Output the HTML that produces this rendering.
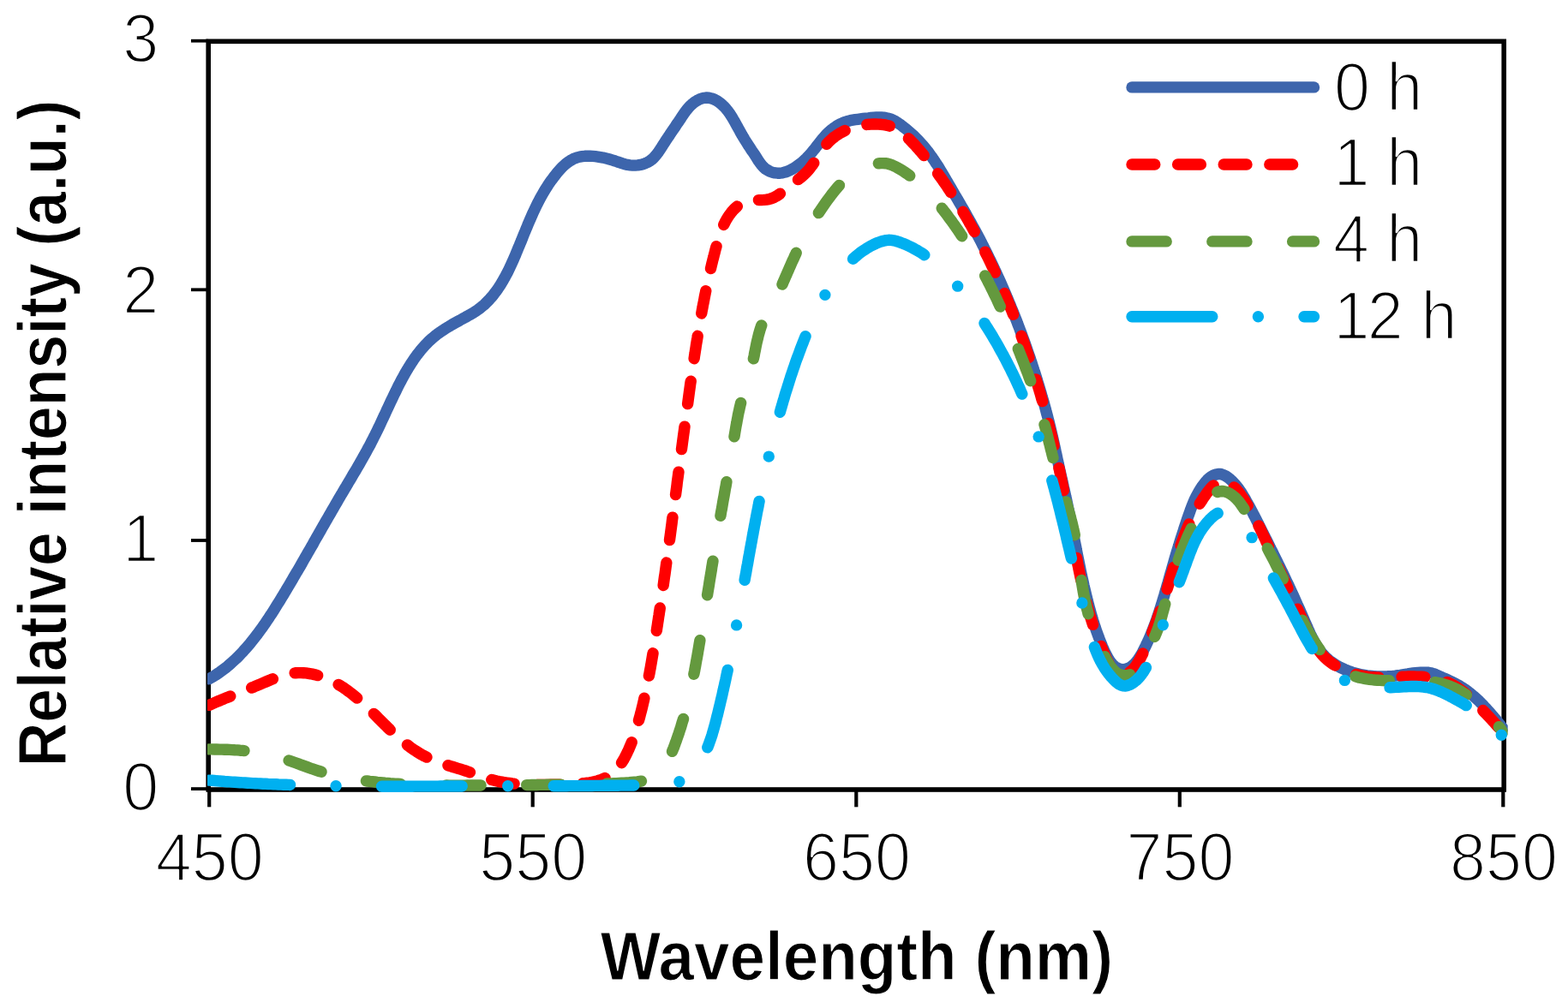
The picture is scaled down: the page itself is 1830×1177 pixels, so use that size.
<!DOCTYPE html>
<html lang="en">
<head>
<meta charset="utf-8">
<title>Relative intensity vs wavelength</title>
<style>
html,body{margin:0;padding:0;background:#fff;}
body{width:1830px;height:1177px;overflow:hidden;}
svg{display:block;}
text{font-family:"Liberation Sans",sans-serif;fill:#000;}
.tick{font-size:79.5px;stroke:#fff;stroke-width:2.4px;stroke-linejoin:round;}
.title{font-size:80.3px;font-weight:bold;stroke:#fff;stroke-width:1.2px;stroke-linejoin:round;}
.series{fill:none;stroke-width:13.4;stroke-linecap:round;stroke-linejoin:round;}
.ax{stroke:#000;fill:none;}
</style>
</head>
<body>
<svg width="1830" height="1177" viewBox="0 0 1830 1177">
<rect width="1830" height="1177" fill="#fff"/>
<defs><clipPath id="plot"><rect x="242" y="0" width="1517.7" height="925"/></clipPath></defs>
<rect class="ax" x="243.2" y="48.3" width="1512" height="873.7" stroke-width="5.6"/>
<g class="ax" stroke-width="3.8">
<line x1="223" y1="921.1" x2="243" y2="921.1"/>
<line x1="223" y1="631" x2="243" y2="631"/>
<line x1="223" y1="338.3" x2="243" y2="338.3"/>
<line x1="223" y1="47.7" x2="243" y2="47.7"/>
</g>
<g class="ax" stroke-width="4.2">
<line x1="244.2" y1="922" x2="244.2" y2="942.3"/>
<line x1="621.7" y1="922" x2="621.7" y2="942.3"/>
<line x1="999.3" y1="922" x2="999.3" y2="942.3"/>
<line x1="1376.8" y1="922" x2="1376.8" y2="942.3"/>
<line x1="1754.3" y1="922" x2="1754.3" y2="942.3"/>
</g>
<g class="series" clip-path="url(#plot)">
<path stroke="#3D65AC" d="M244 792.7L246.7 791.2L249.3 789.7L251.8 788.1L254.3 786.4L256.8 784.7L259.2 782.9L261.6 781.1L264 779.3L266.3 777.4L268.6 775.4L270.8 773.4L273 771.4L275.2 769.4L277.4 767.3L279.5 765.1L281.5 763L283.6 760.8L285.6 758.6L287.6 756.3L289.5 754.1L291.5 751.8L293.4 749.4L295.3 747.1L297.1 744.7L298.9 742.4L300.8 740L302.5 737.6L304.3 735.1L306.1 732.7L307.8 730.2L309.5 727.8L311.2 725.3L312.9 722.8L314.5 720.3L316.2 717.8L317.8 715.3L319.4 712.8L321 710.2L322.6 707.7L324.2 705.1L325.8 702.6L327.4 700L328.9 697.4L330.5 694.9L332 692.3L333.6 689.7L335.1 687.1L336.6 684.6L338.2 682L339.7 679.4L341.2 676.8L342.7 674.2L344.2 671.6L345.7 669L347.3 666.4L348.8 663.9L350.3 661.3L351.8 658.7L353.2 656.1L354.7 653.5L356.2 650.9L357.7 648.3L359.2 645.7L360.7 643.1L362.2 640.5L363.7 637.9L365.2 635.3L366.6 632.6L368.1 630L369.6 627.4L371.1 624.8L372.6 622.2L374.1 619.6L375.5 617L377 614.4L378.5 611.8L380 609.2L381.5 606.6L383 604L384.5 601.4L386 598.8L387.5 596.2L389 593.6L390.5 591L392 588.4L393.5 585.8L395 583.2L396.5 580.6L398 578L399.6 575.4L401.1 572.8L402.6 570.3L404.2 567.7L405.7 565.1L407.2 562.5L408.8 559.9L410.3 557.3L411.8 554.7L413.3 552.1L414.9 549.6L416.4 547L417.9 544.4L419.4 541.8L420.9 539.2L422.4 536.5L423.9 533.9L425.3 531.3L426.8 528.7L428.2 526.1L429.6 523.4L431.1 520.8L432.5 518.2L433.8 515.5L435.2 512.9L436.5 510.2L437.9 507.5L439.2 504.8L440.5 502.2L441.8 499.5L443.1 496.8L444.4 494.1L445.6 491.4L446.9 488.7L448.1 486L449.4 483.3L450.7 480.5L451.9 477.8L453.2 475.1L454.5 472.4L455.7 469.7L457 467L458.3 464.3L459.6 461.5L460.9 458.8L462.3 456.1L463.6 453.4L464.9 450.7L466.3 448L467.7 445.3L469.1 442.6L470.6 440L472 437.3L473.5 434.7L475.1 432.1L476.6 429.5L478.2 426.9L479.8 424.4L481.5 421.8L483.1 419.4L484.9 416.9L486.6 414.5L488.5 412.1L490.3 409.8L492.2 407.5L494.2 405.3L496.2 403.1L498.2 400.9L500.3 398.8L502.5 396.8L504.7 394.8L507 392.9L509.3 391L511.7 389.2L514.2 387.5L516.7 385.8L519.2 384.2L521.8 382.5L524.4 381L527 379.4L529.6 377.9L532.3 376.4L534.9 375L537.6 373.5L540.2 372L542.9 370.6L545.5 369.1L548.1 367.7L550.6 366.2L553.2 364.7L555.7 363.1L558.1 361.4L560.5 359.6L562.8 357.7L565.1 355.8L567.3 353.7L569.4 351.5L571.5 349.3L573.5 347.1L575.5 344.7L577.3 342.3L579.1 339.9L580.9 337.5L582.5 335L584.2 332.5L585.7 329.9L587.2 327.3L588.7 324.7L590.1 322.1L591.5 319.5L592.9 316.8L594.2 314.1L595.5 311.4L596.7 308.7L598 305.9L599.2 303.2L600.4 300.4L601.6 297.7L602.7 294.9L603.9 292.1L605 289.3L606.2 286.6L607.3 283.8L608.5 281L609.6 278.2L610.7 275.4L611.8 272.6L613 269.9L614.1 267.1L615.3 264.3L616.4 261.5L617.6 258.8L618.8 256L620 253.3L621.2 250.5L622.4 247.8L623.7 245.1L625 242.4L626.3 239.7L627.6 237L629 234.4L630.4 231.7L631.8 229.1L633.3 226.5L634.8 223.9L636.3 221.3L637.9 218.8L639.5 216.3L641.2 213.8L642.9 211.3L644.7 208.9L646.5 206.5L648.4 204.1L650.3 201.7L652.3 199.4L654.3 197.1L656.4 194.9L658.6 192.9L660.9 190.9L663.3 189.1L665.7 187.5L668.3 186.1L670.9 184.8L673.7 183.9L676.6 183.1L679.5 182.6L682.5 182.3L685.6 182.2L688.6 182.2L691.7 182.4L694.8 182.7L697.8 183.1L700.8 183.6L703.8 184.1L706.7 184.8L709.6 185.5L712.4 186.3L715.2 187.1L718 188L720.8 189L723.6 189.9L726.5 190.9L729.4 191.7L732.3 192.4L735.4 192.8L738.4 193.1L741.4 193.1L744.5 192.9L747.4 192.4L750.3 191.7L753.1 190.7L755.8 189.5L758.3 188L760.7 186.3L762.8 184.3L764.8 182.2L766.7 179.8L768.5 177.4L770.2 174.8L771.9 172.3L773.5 169.7L775.2 167.1L776.8 164.6L778.5 162.1L780.2 159.6L781.8 157.1L783.5 154.6L785.2 152.1L786.8 149.7L788.5 147.2L790.1 144.7L791.8 142.3L793.5 139.8L795.1 137.3L796.8 134.8L798.5 132.3L800.2 129.9L802.1 127.5L804 125.2L806.1 123.1L808.4 121L810.8 119.2L813.4 117.5L816.1 116.1L819 115L821.8 114.3L824.7 114L827.6 114.2L830.4 114.9L833.2 115.9L835.9 117.2L838.5 118.9L841 120.7L843.3 122.8L845.5 124.9L847.5 127.2L849.4 129.5L851.2 131.9L852.8 134.4L854.4 136.9L855.9 139.5L857.4 142L858.8 144.7L860.3 147.3L861.7 149.9L863.2 152.6L864.6 155.2L866.1 157.8L867.7 160.4L869.2 163L870.8 165.5L872.4 168.1L874 170.6L875.7 173.1L877.3 175.6L879 178L880.7 180.5L882.3 183.1L883.9 185.6L885.5 188.2L887.3 190.7L889.1 193.1L891.2 195.2L893.4 197.2L896 198.8L898.7 200.2L901.5 201.2L904.5 201.9L907.4 202.2L910.4 202.2L913.3 201.8L916.2 201.1L919 200.1L921.8 198.9L924.5 197.5L927.2 195.9L929.7 194.3L932.2 192.5L934.6 190.7L936.9 188.7L939.1 186.7L941.3 184.7L943.4 182.5L945.4 180.3L947.3 178.1L949.2 175.7L951.1 173.4L952.9 171L954.8 168.6L956.6 166.3L958.5 163.9L960.4 161.6L962.4 159.3L964.4 157.1L966.5 155L968.8 152.9L971.1 151L973.5 149.2L976 147.5L978.5 145.9L981.2 144.5L983.9 143.3L986.6 142.3L989.5 141.4L992.3 140.7L995.3 140.2L998.2 139.7L1001.2 139.3L1004.2 138.9L1007.3 138.5L1010.3 138.1L1013.4 137.8L1016.4 137.4L1019.5 137.1L1022.5 137L1025.5 136.9L1028.5 137L1031.4 137.2L1034.3 137.7L1037.2 138.3L1039.9 139.2L1042.6 140.4L1045.3 141.8L1047.8 143.4L1050.4 145.2L1052.8 147L1055.2 148.9L1057.6 150.8L1059.9 152.8L1062.2 154.8L1064.5 156.8L1066.7 158.8L1068.8 160.9L1070.9 163.1L1073 165.2L1075 167.4L1077 169.7L1078.9 171.9L1080.8 174.2L1082.7 176.6L1084.5 179L1086.2 181.4L1088 183.8L1089.6 186.3L1091.3 188.8L1092.9 191.3L1094.6 193.8L1096.1 196.3L1097.7 198.9L1099.3 201.5L1100.8 204.1L1102.3 206.7L1103.8 209.3L1105.4 211.9L1106.9 214.5L1108.4 217.1L1109.9 219.7L1111.4 222.3L1112.9 224.9L1114.4 227.5L1115.9 230.1L1117.5 232.7L1119 235.3L1120.5 237.9L1122 240.5L1123.5 243.1L1125 245.7L1126.5 248.3L1127.9 250.9L1129.4 253.5L1130.9 256.1L1132.3 258.7L1133.8 261.3L1135.2 264L1136.7 266.6L1138.1 269.2L1139.5 271.9L1140.9 274.5L1142.3 277.2L1143.7 279.8L1145.1 282.5L1146.4 285.2L1147.8 287.8L1149.1 290.5L1150.5 293.2L1151.8 295.9L1153.2 298.6L1154.5 301.3L1155.8 304L1157.1 306.7L1158.4 309.4L1159.7 312.1L1160.9 314.8L1162.2 317.5L1163.4 320.2L1164.7 323L1165.9 325.7L1167.2 328.4L1168.4 331.2L1169.6 333.9L1170.8 336.7L1172 339.4L1173.2 342.2L1174.4 344.9L1175.5 347.7L1176.7 350.5L1177.8 353.2L1179 356L1180.1 358.8L1181.3 361.6L1182.4 364.3L1183.5 367.1L1184.6 369.9L1185.7 372.7L1186.8 375.5L1187.8 378.3L1188.9 381.1L1190 383.9L1191 386.7L1192.1 389.5L1193.1 392.4L1194.1 395.2L1195.2 398L1196.2 400.8L1197.2 403.7L1198.2 406.5L1199.1 409.3L1200.1 412.2L1201.1 415L1202.1 417.8L1203 420.7L1204 423.5L1204.9 426.4L1205.8 429.2L1206.7 432.1L1207.7 435L1208.6 437.8L1209.5 440.7L1210.3 443.5L1211.2 446.4L1212.1 449.3L1213 452.2L1213.8 455L1214.7 457.9L1215.5 460.8L1216.3 463.7L1217.2 466.6L1218 469.4L1218.8 472.3L1219.6 475.2L1220.4 478.1L1221.1 481L1221.9 483.9L1222.7 486.8L1223.4 489.7L1224.2 492.6L1224.9 495.5L1225.6 498.4L1226.3 501.3L1227 504.3L1227.7 507.2L1228.4 510.1L1229 513L1229.7 515.9L1230.3 518.9L1231 521.8L1231.6 524.7L1232.2 527.7L1232.9 530.6L1233.5 533.5L1234.1 536.5L1234.8 539.4L1235.4 542.3L1236.1 545.3L1236.7 548.2L1237.4 551.1L1238 554.1L1238.7 557L1239.4 559.9L1240 562.8L1240.7 565.8L1241.3 568.7L1242 571.6L1242.6 574.5L1243.3 577.5L1243.9 580.4L1244.6 583.3L1245.2 586.3L1245.8 589.2L1246.4 592.1L1247 595.1L1247.7 598L1248.3 601L1248.8 603.9L1249.4 606.8L1250 609.8L1250.6 612.7L1251.2 615.7L1251.8 618.6L1252.3 621.5L1252.9 624.5L1253.5 627.4L1254 630.4L1254.6 633.3L1255.2 636.3L1255.8 639.2L1256.3 642.1L1256.9 645.1L1257.5 648L1258.1 651L1258.7 653.9L1259.3 656.8L1259.9 659.8L1260.5 662.7L1261.1 665.7L1261.7 668.6L1262.3 671.5L1263 674.5L1263.6 677.4L1264.3 680.3L1264.9 683.3L1265.6 686.2L1266.3 689.1L1267 692L1267.7 695L1268.4 697.9L1269.1 700.8L1269.9 703.7L1270.6 706.6L1271.4 709.5L1272.2 712.4L1273 715.3L1273.8 718.2L1274.7 721.1L1275.5 723.9L1276.4 726.8L1277.3 729.7L1278.3 732.5L1279.2 735.4L1280.2 738.2L1281.2 741L1282.2 743.8L1283.3 746.6L1284.4 749.4L1285.5 752.1L1286.6 754.9L1287.8 757.6L1289 760.4L1290.3 763.1L1291.7 765.8L1293.2 768.5L1294.8 771.1L1296.6 773.7L1298.6 776L1300.8 778L1303.3 779.7L1306 780.9L1308.9 781.6L1311.8 781.6L1314.7 781.1L1317.5 780L1320.1 778.5L1322.5 776.6L1324.7 774.5L1326.7 772.1L1328.5 769.7L1330.2 767.1L1331.8 764.5L1333.3 761.9L1334.7 759.2L1336 756.5L1337.3 753.9L1338.6 751.1L1339.9 748.4L1341.1 745.7L1342.3 742.9L1343.4 740.2L1344.5 737.4L1345.6 734.6L1346.7 731.8L1347.8 729.1L1348.8 726.2L1349.8 723.4L1350.8 720.6L1351.7 717.8L1352.7 714.9L1353.6 712.1L1354.5 709.2L1355.4 706.4L1356.3 703.5L1357.2 700.6L1358 697.8L1358.9 694.9L1359.7 692L1360.6 689.1L1361.4 686.2L1362.2 683.3L1363.1 680.4L1363.9 677.5L1364.7 674.6L1365.5 671.8L1366.3 668.9L1367.2 666L1368 663.1L1368.8 660.2L1369.7 657.3L1370.5 654.4L1371.3 651.5L1372.2 648.6L1373 645.7L1373.9 642.9L1374.8 640L1375.7 637.1L1376.5 634.3L1377.4 631.4L1378.3 628.5L1379.2 625.7L1380.2 622.8L1381.1 620L1382 617.1L1382.9 614.3L1383.9 611.4L1384.8 608.6L1385.8 605.8L1386.7 603L1387.7 600.2L1388.7 597.4L1389.7 594.6L1390.8 591.8L1391.9 589L1393 586.3L1394.2 583.5L1395.5 580.8L1396.9 578.2L1398.3 575.5L1399.8 572.9L1401.4 570.3L1403.1 567.7L1405 565.2L1406.9 562.7L1409 560.4L1411.3 558.4L1413.6 556.6L1416.2 555.1L1418.9 554.1L1421.7 553.5L1424.6 553.5L1427.3 554.3L1430 555.5L1432.5 557.1L1435 559L1437.3 561.1L1439.4 563.2L1441.5 565.5L1443.4 567.8L1445.3 570.2L1447 572.6L1448.7 575.1L1450.3 577.7L1451.8 580.2L1453.4 582.8L1454.8 585.5L1456.3 588.1L1457.7 590.7L1459.2 593.3L1460.6 596L1462 598.6L1463.3 601.3L1464.7 603.9L1466.1 606.6L1467.4 609.2L1468.8 611.9L1470.1 614.6L1471.5 617.3L1472.8 619.9L1474.1 622.6L1475.5 625.3L1476.8 628L1478.2 630.7L1479.5 633.4L1480.9 636.1L1482.2 638.8L1483.5 641.5L1484.9 644.2L1486.2 646.9L1487.5 649.6L1488.9 652.3L1490.2 655L1491.5 657.7L1492.8 660.4L1494.2 663.1L1495.5 665.8L1496.8 668.5L1498.1 671.2L1499.4 673.9L1500.6 676.6L1501.9 679.3L1503.2 682L1504.5 684.7L1505.7 687.4L1507 690.1L1508.2 692.8L1509.4 695.5L1510.7 698.2L1511.9 700.9L1513.1 703.6L1514.3 706.4L1515.6 709.1L1516.8 711.8L1518 714.6L1519.2 717.3L1520.4 720.1L1521.6 722.8L1522.8 725.6L1524 728.4L1525.3 731.2L1526.5 734L1527.8 736.8L1529 739.6L1530.3 742.3L1531.7 745L1533.1 747.7L1534.6 750.4L1536.1 753L1537.7 755.5L1539.3 758L1541.1 760.4L1542.9 762.7L1544.9 764.9L1546.9 767L1549.1 769.1L1551.3 771L1553.7 772.8L1556.1 774.5L1558.6 776.1L1561.2 777.7L1563.8 779.1L1566.5 780.4L1569.3 781.7L1572.1 782.8L1574.9 783.9L1577.8 784.9L1580.7 785.8L1583.6 786.5L1586.5 787.2L1589.4 787.9L1592.4 788.4L1595.4 788.9L1598.3 789.2L1601.3 789.5L1604.3 789.8L1607.3 789.9L1610.3 790L1613.3 790L1616.3 789.9L1619.3 789.8L1622.3 789.6L1625.3 789.4L1628.3 789.1L1631.3 788.7L1634.3 788.3L1637.2 787.8L1640.2 787.3L1643.1 786.9L1646.1 786.4L1649.1 786L1652 785.7L1655 785.4L1658 785.2L1661 785.1L1664.1 785.1L1667.1 785.3L1670 785.8L1672.9 786.6L1675.6 787.6L1678.4 788.8L1681.1 790L1683.8 791.3L1686.6 792.5L1689.3 793.7L1692.1 795L1694.8 796.3L1697.6 797.7L1700.2 799.1L1702.8 800.5L1705.4 802.1L1707.9 803.7L1710.4 805.4L1712.8 807.2L1715.2 809L1717.5 810.9L1719.8 812.8L1722 814.8L1724.2 816.8L1726.4 818.8L1728.5 821L1730.6 823.1L1732.6 825.3L1734.7 827.5L1736.7 829.7L1738.7 832L1740.7 834.2L1742.6 836.5L1744.6 838.8L1746.5 841.1L1748.4 843.4L1750.3 845.7L1752.2 848.1L1754.1 850.4"/>
<path stroke="#FF0000" stroke-dasharray="26.79 26.79 26.79 26.79 26.78 26.78 26.78 26.78 26.77 26.77 26.77 26.77 26.76 26.76 26.76 26.76 26.75 26.75 26.75 26.75 26.75 26.74 26.74 26.74 26.74 26.74 26.74 26.74 26.73 26.73 26.73 26.73 26.73 26.73 26.73 26.73 26.73 26.73 26.73 26.73 26.73 26.73 26.73 26.73 26.73 26.73 26.73 26.73 26.73 26.73 26.73 26.73 26.73 26.73 26.73 26.73 26.73 26.73 26.73 26.73 26.73 26.73 26.74 26.74 26.74 26.74 26.74 26.74 26.74 26.75 26.75 26.75 26.75 26.75 26.76 26.76 26.76 26.76 26.76 26.77 26.77 26.77 26.77 26.78 26.78 26.78 26.79 26.79 26.79 26.8 26.8 26.8 26.81 26.81 26.81 26.82 26.82 26.82 26.83 26.83 26.83 26.84 26.84 26.85 26.85 26.84 26.8 400" d="M244.1 823.4L246.9 822.1L249.7 820.9L252.5 819.7L255.3 818.5L258.1 817.3L260.9 816.2L263.6 815L266.4 813.9L269.1 812.8L271.9 811.7L274.6 810.6L277.4 809.5L280.1 808.5L282.8 807.4L285.6 806.3L288.3 805.2L291.1 804.1L293.8 803L296.6 801.9L299.4 800.7L302.2 799.6L305 798.4L307.8 797.2L310.6 796L313.5 794.8L316.3 793.6L319.2 792.5L322 791.3L324.9 790.3L327.8 789.3L330.7 788.4L333.6 787.6L336.5 786.9L339.5 786.4L342.4 786L345.3 785.7L348.3 785.6L351.2 785.6L354.2 785.7L357.1 785.9L360 786.3L362.9 786.8L365.9 787.4L368.7 788.1L371.6 788.9L374.5 789.8L377.3 790.8L380.1 791.9L382.8 793.1L385.6 794.3L388.3 795.6L390.9 797L393.6 798.5L396.1 800L398.7 801.6L401.2 803.2L403.6 804.9L406.1 806.7L408.5 808.5L410.8 810.3L413.2 812.2L415.5 814.1L417.8 816L420 818L422.3 820L424.5 822L426.7 824.1L428.9 826.2L431 828.2L433.2 830.4L435.4 832.5L437.5 834.6L439.7 836.8L441.8 838.9L443.9 841L446.1 843.2L448.2 845.3L450.4 847.4L452.5 849.6L454.7 851.7L456.8 853.7L459 855.8L461.2 857.9L463.5 859.9L465.7 861.9L467.9 863.8L470.2 865.8L472.5 867.6L474.9 869.5L477.2 871.3L479.6 873.1L482 874.8L484.5 876.4L487 878L489.5 879.6L492.1 881.1L494.7 882.5L497.4 883.9L500.1 885.1L502.8 886.4L505.6 887.5L508.4 888.7L511.3 889.7L514.1 890.8L517 891.8L519.9 892.7L522.8 893.7L525.8 894.6L528.7 895.5L531.6 896.4L534.6 897.3L537.5 898.2L540.4 899.1L543.2 900L546.1 901L548.9 901.9L551.7 902.9L554.5 904L557.3 905L560 906L562.8 907L565.6 908L568.4 908.9L571.2 909.8L574 910.6L576.9 911.3L579.9 912L582.8 912.6L585.8 913.1L588.8 913.7L591.8 914.1L594.8 914.5L597.9 914.9L600.9 915.2L604 915.4L607 915.7L610.1 915.9L613.1 916L616.1 916.2L619.1 916.3L622.1 916.3L625 916.4L628 916.4L630.9 916.4L633.8 916.4L636.7 916.4L639.6 916.4L642.6 916.3L645.5 916.3L648.4 916.2L651.4 916.1L654.4 916.1L657.4 916L660.4 915.9L663.5 915.8L666.6 915.7L669.7 915.6L672.8 915.4L675.9 915.2L679 914.9L682.1 914.6L685.2 914.2L688.2 913.8L691.2 913.2L694.2 912.6L697.1 911.9L699.9 911L702.7 910L705.3 908.9L707.9 907.6L710.4 906.2L712.8 904.6L715.1 902.9L717.3 901L719.3 898.9L721.3 896.6L723.1 894.3L724.8 891.8L726.5 889.2L728.1 886.5L729.5 883.8L730.9 881.1L732.3 878.3L733.6 875.5L734.8 872.7L736 869.9L737.1 867.1L738.1 864.3L739.2 861.5L740.2 858.7L741.1 855.8L742 853L742.9 850.1L743.7 847.2L744.6 844.4L745.4 841.5L746.2 838.6L747 835.7L747.7 832.8L748.5 830L749.2 827.1L749.9 824.2L750.6 821.2L751.3 818.3L751.9 815.4L752.6 812.5L753.2 809.6L753.9 806.7L754.5 803.7L755.1 800.8L755.7 797.9L756.3 794.9L756.9 792L757.4 789L758 786.1L758.5 783.1L759.1 780.2L759.6 777.2L760.1 774.3L760.6 771.3L761.1 768.4L761.6 765.4L762.1 762.5L762.6 759.5L763.1 756.5L763.6 753.6L764 750.6L764.5 747.6L765 744.7L765.5 741.7L765.9 738.7L766.4 735.8L766.8 732.8L767.3 729.9L767.7 726.9L768.2 723.9L768.6 721L769.1 718L769.5 715L770 712.1L770.4 709.1L770.8 706.1L771.3 703.2L771.7 700.2L772.2 697.3L772.6 694.3L773 691.3L773.4 688.4L773.9 685.4L774.3 682.4L774.7 679.5L775.1 676.5L775.5 673.5L776 670.6L776.4 667.6L776.8 664.6L777.2 661.7L777.6 658.7L778 655.7L778.4 652.8L778.8 649.8L779.2 646.8L779.7 643.9L780.1 640.9L780.5 637.9L780.9 635L781.3 632L781.7 629L782.1 626.1L782.5 623.1L782.9 620.1L783.3 617.2L783.7 614.2L784.1 611.2L784.4 608.3L784.8 605.3L785.2 602.3L785.6 599.4L786 596.4L786.4 593.4L786.8 590.4L787.2 587.5L787.6 584.5L788 581.5L788.4 578.6L788.8 575.6L789.2 572.6L789.6 569.7L790 566.7L790.3 563.7L790.7 560.7L791.1 557.8L791.5 554.8L791.9 551.8L792.3 548.9L792.7 545.9L793.1 542.9L793.5 539.9L793.9 537L794.3 534L794.7 531L795.1 528.1L795.4 525.1L795.8 522.1L796.2 519.1L796.6 516.2L797 513.2L797.4 510.2L797.8 507.2L798.2 504.3L798.6 501.3L799 498.3L799.4 495.4L799.8 492.4L800.2 489.4L800.6 486.4L801 483.5L801.4 480.5L801.8 477.5L802.2 474.6L802.6 471.6L803 468.6L803.4 465.6L803.8 462.7L804.2 459.7L804.6 456.7L805 453.8L805.4 450.8L805.8 447.8L806.3 444.9L806.7 441.9L807.1 438.9L807.5 436L808 433L808.4 430L808.8 427.1L809.3 424.1L809.7 421.1L810.2 418.2L810.6 415.2L811.1 412.2L811.5 409.3L812 406.3L812.4 403.4L812.9 400.4L813.4 397.5L813.9 394.5L814.3 391.5L814.8 388.6L815.3 385.6L815.8 382.7L816.3 379.7L816.8 376.8L817.3 373.8L817.8 370.9L818.4 368L818.9 365L819.4 362.1L820 359.1L820.5 356.2L821.1 353.3L821.7 350.3L822.2 347.4L822.8 344.4L823.4 341.5L824 338.6L824.6 335.7L825.2 332.7L825.8 329.8L826.5 326.9L827.1 323.9L827.8 321L828.4 318.1L829.1 315.2L829.8 312.3L830.5 309.3L831.2 306.4L831.9 303.5L832.7 300.6L833.4 297.7L834.2 294.8L834.9 291.8L835.7 288.9L836.5 286L837.3 283.1L838.2 280.2L839.1 277.3L840 274.5L841 271.6L842 268.8L843.1 266L844.3 263.3L845.6 260.6L846.9 258L848.4 255.4L850 252.8L851.7 250.4L853.5 248L855.5 245.7L857.6 243.5L859.8 241.5L862.1 239.7L864.6 238L867.2 236.7L870 235.5L872.8 234.7L875.8 234.2L878.9 233.9L882 233.7L885.1 233.6L888.3 233.6L891.4 233.4L894.4 233.1L897.4 232.6L900.2 231.8L902.9 230.7L905.4 229.4L907.9 227.9L910.4 226.2L912.8 224.4L915.1 222.5L917.5 220.5L919.8 218.6L922.2 216.7L924.7 214.8L927.1 213L929.5 211.1L931.9 209.3L934.3 207.4L936.6 205.5L938.8 203.5L940.9 201.4L943 199.3L944.9 197L946.7 194.6L948.5 192.2L950.2 189.7L951.8 187.2L953.4 184.6L955 182.1L956.7 179.5L958.3 177L960 174.6L961.8 172.1L963.6 169.8L965.5 167.5L967.5 165.4L969.7 163.4L971.9 161.4L974.2 159.6L976.6 157.9L979.1 156.3L981.7 154.8L984.3 153.4L987 152.1L989.8 150.9L992.6 149.8L995.4 148.8L998.3 148L1001.3 147.2L1004.2 146.6L1007.2 146L1010.2 145.6L1013.2 145.3L1016.3 145.1L1019.3 145L1022.3 145L1025.4 145.1L1028.4 145.3L1031.3 145.7L1034.3 146.2L1037.1 146.8L1040 147.7L1042.7 148.7L1045.4 149.9L1048 151.3L1050.5 152.9L1052.9 154.7L1055.2 156.7L1057.4 158.8L1059.6 160.9L1061.8 163.1L1063.9 165.3L1066 167.5L1068.1 169.7L1070.1 172L1072.1 174.2L1074.1 176.5L1076 178.8L1077.9 181.1L1079.8 183.4L1081.7 185.7L1083.6 188.1L1085.4 190.4L1087.2 192.8L1089 195.2L1090.8 197.6L1092.6 200L1094.4 202.4L1096.1 204.8L1097.8 207.2L1099.6 209.7L1101.3 212.1L1103 214.6L1104.7 217L1106.3 219.5L1108 222L1109.6 224.5L1111.3 227L1112.9 229.5L1114.5 232.1L1116.1 234.6L1117.7 237.1L1119.3 239.7L1120.9 242.2L1122.5 244.8L1124 247.4L1125.5 250L1127.1 252.6L1128.6 255.1L1130.1 257.7L1131.6 260.4L1133.1 263L1134.6 265.6L1136 268.2L1137.5 270.9L1138.9 273.5L1140.3 276.1L1141.8 278.8L1143.2 281.5L1144.6 284.1L1146 286.8L1147.4 289.5L1148.7 292.1L1150.1 294.8L1151.4 297.5L1152.8 300.2L1154.1 302.9L1155.4 305.6L1156.7 308.3L1158 311L1159.3 313.7L1160.6 316.4L1161.9 319.1L1163.1 321.9L1164.4 324.6L1165.6 327.3L1166.9 330.1L1168.1 332.8L1169.3 335.5L1170.5 338.3L1171.7 341L1172.9 343.8L1174.1 346.6L1175.3 349.3L1176.4 352.1L1177.6 354.9L1178.7 357.6L1179.8 360.4L1181 363.2L1182.1 366L1183.2 368.8L1184.3 371.6L1185.4 374.4L1186.4 377.2L1187.5 380L1188.6 382.8L1189.6 385.6L1190.7 388.4L1191.7 391.2L1192.7 394L1193.7 396.8L1194.8 399.7L1195.8 402.5L1196.8 405.3L1197.7 408.2L1198.7 411L1199.7 413.8L1200.6 416.7L1201.6 419.5L1202.5 422.4L1203.5 425.2L1204.4 428.1L1205.3 430.9L1206.2 433.8L1207.1 436.6L1208 439.5L1208.9 442.4L1209.8 445.2L1210.7 448.1L1211.5 451L1212.4 453.9L1213.2 456.7L1214.1 459.6L1214.9 462.5L1215.7 465.4L1216.6 468.3L1217.4 471.2L1218.2 474.1L1219 476.9L1219.8 479.8L1220.5 482.7L1221.3 485.6L1222.1 488.5L1222.9 491.4L1223.6 494.3L1224.4 497.3L1225.1 500.2L1225.8 503.1L1226.6 506L1227.3 508.9L1228 511.8L1228.7 514.7L1229.4 517.6L1230.1 520.6L1230.8 523.5L1231.5 526.4L1232.1 529.3L1232.8 532.3L1233.4 535.2L1234.1 538.1L1234.7 541L1235.4 544L1236 546.9L1236.7 549.8L1237.3 552.8L1237.9 555.7L1238.5 558.6L1239.1 561.6L1239.7 564.5L1240.3 567.4L1240.9 570.4L1241.5 573.3L1242.1 576.3L1242.6 579.2L1243.2 582.1L1243.8 585.1L1244.4 588L1244.9 591L1245.5 593.9L1246.1 596.9L1246.6 599.8L1247.2 602.8L1247.7 605.7L1248.3 608.7L1248.9 611.6L1249.4 614.6L1250 617.5L1250.5 620.5L1251.1 623.4L1251.6 626.4L1252.2 629.3L1252.8 632.3L1253.3 635.3L1253.9 638.2L1254.5 641.2L1255 644.1L1255.6 647.1L1256.2 650.1L1256.8 653L1257.3 656L1257.9 659L1258.5 661.9L1259.1 664.9L1259.7 667.8L1260.3 670.8L1260.9 673.8L1261.6 676.7L1262.2 679.7L1262.9 682.6L1263.5 685.5L1264.2 688.5L1264.9 691.4L1265.6 694.3L1266.3 697.2L1267 700.1L1267.8 703L1268.5 705.9L1269.3 708.8L1270.1 711.7L1270.9 714.5L1271.7 717.4L1272.6 720.2L1273.5 723.1L1274.4 725.9L1275.3 728.7L1276.2 731.5L1277.2 734.2L1278.2 737L1279.2 739.8L1280.3 742.5L1281.3 745.3L1282.4 748L1283.5 750.8L1284.7 753.6L1285.8 756.4L1287 759.2L1288.2 762.1L1289.4 765L1290.7 767.9L1292 770.8L1293.4 773.7L1294.8 776.4L1296.5 779L1298.3 781.4L1300.3 783.5L1302.5 785.3L1304.9 786.8L1307.6 787.8L1310.4 788.1L1313.1 787.7L1315.8 786.6L1318.3 785.1L1320.5 783.3L1322.6 781.3L1324.5 779.1L1326.3 776.7L1327.9 774.1L1329.5 771.5L1330.9 768.7L1332.3 766L1333.7 763.2L1335 760.5L1336.4 757.7L1337.6 754.9L1338.9 752.1L1340.1 749.4L1341.3 746.6L1342.5 743.8L1343.7 741L1344.8 738.2L1345.9 735.4L1347 732.6L1348.1 729.8L1349.1 727L1350.2 724.2L1351.2 721.3L1352.2 718.5L1353.1 715.7L1354.1 712.9L1355.1 710L1356 707.2L1356.9 704.4L1357.9 701.5L1358.8 698.7L1359.7 695.8L1360.6 693L1361.4 690.1L1362.3 687.3L1363.2 684.4L1364.1 681.6L1364.9 678.7L1365.8 675.8L1366.6 673L1367.5 670.1L1368.4 667.2L1369.2 664.4L1370.1 661.5L1371 658.6L1371.9 655.8L1372.7 652.9L1373.7 650.1L1374.6 647.2L1375.5 644.4L1376.4 641.5L1377.4 638.7L1378.4 635.9L1379.4 633L1380.4 630.2L1381.5 627.4L1382.5 624.6L1383.6 621.8L1384.8 619L1385.9 616.3L1387.1 613.5L1388.4 610.8L1389.6 608L1390.9 605.3L1392.2 602.6L1393.6 599.9L1395 597.3L1396.5 594.6L1398 592L1399.5 589.4L1401.1 586.7L1402.8 584.2L1404.4 581.6L1406.2 579.1L1408 576.5L1409.8 574L1411.8 571.6L1413.7 569.3L1415.8 567.2L1418 565.4L1420.4 564L1422.8 563L1425.5 562.6L1428.3 562.8L1431.2 563.5L1434.1 564.8L1436.9 566.4L1439.5 568.2L1441.8 570.3L1443.9 572.6L1445.9 574.9L1447.7 577.4L1449.4 579.8L1451.1 582.3L1452.8 584.8L1454.4 587.4L1456 589.9L1457.5 592.5L1459 595.1L1460.5 597.6L1461.9 600.3L1463.4 602.9L1464.8 605.5L1466.1 608.2L1467.5 610.8L1468.8 613.5L1470.2 616.2L1471.5 618.9L1472.7 621.6L1474 624.3L1475.3 627L1476.6 629.7L1477.8 632.5L1479.1 635.2L1480.3 637.9L1481.6 640.7L1482.8 643.4L1484.1 646.1L1485.4 648.9L1486.6 651.6L1487.9 654.3L1489.2 657.1L1490.4 659.8L1491.7 662.5L1493 665.3L1494.2 668L1495.5 670.7L1496.8 673.5L1498 676.2L1499.3 678.9L1500.6 681.6L1501.8 684.4L1503.1 687.1L1504.4 689.8L1505.6 692.5L1506.9 695.2L1508.1 697.9L1509.4 700.6L1510.6 703.3L1511.9 706L1513.2 708.7L1514.4 711.4L1515.7 714.1L1516.9 716.8L1518.2 719.5L1519.4 722.3L1520.7 725L1521.9 727.8L1523.2 730.5L1524.5 733.3L1525.8 736.1L1527.1 738.8L1528.4 741.5L1529.8 744.3L1531.2 746.9L1532.7 749.6L1534.2 752.2L1535.8 754.7L1537.5 757.2L1539.2 759.6L1541 762L1542.9 764.3L1544.9 766.4L1547 768.5L1549.2 770.5L1551.5 772.4L1553.9 774.2L1556.4 775.9L1558.9 777.5L1561.5 779L1564.1 780.5L1566.9 781.8L1569.6 783L1572.5 784.2L1575.3 785.2L1578.2 786.2L1581.1 787.1L1584.1 787.9L1587 788.5L1590 789.1L1593 789.6L1595.9 790.1L1598.9 790.4L1601.9 790.6L1604.8 790.8L1607.8 790.9L1610.7 790.9L1613.7 791L1616.7 790.9L1619.7 790.8L1622.6 790.8L1625.6 790.6L1628.6 790.5L1631.7 790.4L1634.7 790.3L1637.7 790.2L1640.8 790.1L1643.8 790L1646.9 790L1649.9 790L1652.9 790.1L1656 790.2L1659 790.3L1662 790.5L1665 790.8L1667.9 791.2L1670.9 791.6L1673.8 792.1L1676.7 792.7L1679.5 793.4L1682.3 794.2L1685.1 795.1L1687.9 796.1L1690.6 797.2L1693.2 798.5L1695.9 799.9L1698.4 801.3L1701 802.9L1703.4 804.6L1705.9 806.4L1708.3 808.2L1710.7 810.2L1713 812.2L1715.3 814.2L1717.6 816.3L1719.8 818.4L1722 820.6L1724.2 822.7L1726.3 824.9L1728.4 827.1L1730.5 829.3L1732.6 831.5L1734.6 833.6L1736.7 835.8L1738.7 837.9L1740.6 840L1742.6 842.2L1744.6 844.3L1746.5 846.5L1748.4 848.8L1750.4 851.2L1752.3 853.6L1754.2 856.1"/>
<path stroke="#64993E" stroke-dasharray="40.91 53.53 40.15 53.55 40.17 53.56 40.17 53.57 40.18 53.58 40.19 53.59 40.19 53.59 40.2 53.6 40.2 53.6 40.2 53.6 40.2 53.6 40.2 53.59 40.19 53.58 40.19 53.58 40.18 53.57 40.17 53.55 40.16 53.54 40.15 53.52 40.13 53.5 40.12 53.48 40.1 53.46 40.08 53.43 40.07 53.41 40.04 53.38 40.02 53.35 40 53.31 39.97 53.28 39.94 53.24 39.92 53.56 40.2 400" d="M244.1 874.9L247.1 874.9L250.1 875L253.1 875L256.1 875.1L259.1 875.1L262.1 875.2L265.1 875.3L268.1 875.4L271.1 875.6L274.1 875.8L277.1 875.9L280.1 876.2L283.1 876.4L286.1 876.7L289.1 877L292.1 877.4L295.1 877.8L298.1 878.2L301 878.6L304 879.1L306.9 879.7L309.9 880.3L312.8 880.9L315.7 881.6L318.6 882.3L321.5 883.1L324.4 883.9L327.3 884.7L330.2 885.6L333 886.6L335.9 887.5L338.7 888.5L341.5 889.5L344.4 890.5L347.2 891.5L350 892.6L352.9 893.6L355.7 894.6L358.5 895.6L361.4 896.7L364.2 897.7L367 898.6L369.9 899.6L372.7 900.5L375.6 901.4L378.5 902.3L381.4 903.1L384.3 903.9L387.2 904.6L390.1 905.3L393 906L395.9 906.7L398.9 907.3L401.8 907.9L404.8 908.4L407.7 908.9L410.7 909.4L413.6 909.9L416.6 910.4L419.6 910.8L422.6 911.2L425.5 911.6L428.5 912L431.5 912.4L434.5 912.7L437.5 913L440.4 913.4L443.4 913.6L446.4 913.9L449.4 914.2L452.4 914.4L455.4 914.7L458.4 914.9L461.3 915.1L464.3 915.3L467.3 915.5L470.3 915.7L473.3 915.8L476.3 916L479.3 916.1L482.3 916.2L485.3 916.3L488.3 916.4L491.3 916.5L494.3 916.6L497.3 916.7L500.3 916.8L503.3 916.8L506.3 916.9L509.3 916.9L512.3 917L515.3 917L518.3 917L521.3 917L524.3 917.1L527.4 917.1L530.4 917.1L533.4 917.1L536.4 917.1L539.4 917.1L542.4 917.1L545.4 917L548.4 917L551.4 917L554.4 917L557.4 917L560.4 917L563.4 916.9L566.5 916.9L569.5 916.9L572.5 916.9L575.5 916.9L578.5 916.8L581.5 916.8L584.5 916.8L587.5 916.8L590.5 916.8L593.5 916.7L596.5 916.7L599.5 916.7L602.5 916.7L605.5 916.6L608.6 916.6L611.6 916.6L614.6 916.6L617.6 916.6L620.6 916.5L623.6 916.5L626.6 916.5L629.6 916.4L632.6 916.4L635.6 916.4L638.6 916.3L641.6 916.3L644.6 916.3L647.6 916.2L650.6 916.2L653.6 916.2L656.6 916.1L659.6 916.1L662.6 916L665.6 916L668.6 915.9L671.5 915.9L674.5 915.8L677.5 915.8L680.5 915.7L683.5 915.7L686.5 915.6L689.5 915.5L692.5 915.5L695.5 915.4L698.4 915.3L701.4 915.3L704.4 915.2L707.4 915.1L710.4 915L713.4 914.9L716.4 914.8L719.4 914.7L722.4 914.5L725.4 914.3L728.4 914.1L731.4 913.9L734.4 913.7L737.5 913.4L740.5 913.1L743.6 912.8L746.7 912.4L749.8 912L752.8 911.5L755.8 910.9L758.7 910.1L761.4 909.1L763.9 907.8L766.3 906.2L768.5 904.5L770.5 902.6L772.4 900.4L774.1 898.2L775.8 895.7L777.3 893.2L778.7 890.5L780.1 887.8L781.4 885L782.6 882.2L783.8 879.3L784.9 876.4L786.1 873.5L787.2 870.6L788.2 867.7L789.3 864.8L790.3 861.9L791.3 859L792.3 856.2L793.2 853.3L794.2 850.4L795.1 847.5L795.9 844.6L796.8 841.7L797.7 838.8L798.5 835.9L799.3 833L800.1 830.1L800.8 827.2L801.6 824.3L802.3 821.4L803 818.5L803.7 815.6L804.4 812.6L805.1 809.7L805.7 806.8L806.4 803.9L807 801L807.6 798.1L808.2 795.2L808.8 792.2L809.4 789.3L810 786.4L810.6 783.5L811.1 780.6L811.7 777.6L812.2 774.7L812.7 771.8L813.3 768.8L813.8 765.9L814.3 763L814.8 760L815.3 757.1L815.8 754.2L816.3 751.2L816.8 748.3L817.3 745.3L817.8 742.4L818.3 739.4L818.8 736.5L819.3 733.5L819.7 730.6L820.2 727.6L820.7 724.6L821.2 721.7L821.7 718.7L822.2 715.7L822.6 712.8L823.1 709.8L823.6 706.8L824.1 703.9L824.6 700.9L825.1 697.9L825.5 695L826 692L826.5 689L827 686L827.5 683.1L827.9 680.1L828.4 677.1L828.9 674.1L829.4 671.2L829.9 668.2L830.4 665.2L830.8 662.2L831.3 659.3L831.8 656.3L832.3 653.3L832.8 650.4L833.3 647.4L833.8 644.4L834.3 641.4L834.8 638.5L835.3 635.5L835.7 632.5L836.2 629.6L836.7 626.6L837.2 623.6L837.7 620.7L838.3 617.7L838.8 614.8L839.3 611.8L839.8 608.8L840.3 605.9L840.8 602.9L841.3 600L841.8 597L842.4 594.1L842.9 591.1L843.4 588.2L843.9 585.2L844.4 582.3L845 579.4L845.5 576.4L846 573.5L846.5 570.5L847.1 567.6L847.6 564.6L848.1 561.7L848.6 558.7L849.1 555.8L849.7 552.9L850.2 549.9L850.7 547L851.2 544L851.7 541.1L852.2 538.1L852.7 535.1L853.3 532.2L853.8 529.2L854.3 526.3L854.8 523.3L855.3 520.3L855.7 517.4L856.2 514.4L856.7 511.4L857.2 508.5L857.7 505.5L858.2 502.5L858.7 499.5L859.2 496.6L859.8 493.6L860.3 490.6L860.9 487.7L861.4 484.7L862 481.8L862.7 478.9L863.3 475.9L864 473L864.7 470.1L865.5 467.2L866.3 464.3L867.1 461.4L867.9 458.6L868.8 455.7L869.7 452.9L870.6 450L871.5 447.2L872.4 444.3L873.3 441.5L874.2 438.6L875.1 435.7L875.9 432.8L876.7 429.9L877.5 427L878.2 424.1L878.9 421.2L879.5 418.2L880.2 415.2L880.7 412.2L881.3 409.3L881.9 406.3L882.5 403.3L883.1 400.3L883.8 397.4L884.5 394.4L885.2 391.5L886 388.6L886.8 385.8L887.7 382.9L888.7 380.1L889.8 377.3L891 374.6L892.3 371.9L893.7 369.3L895.1 366.7L896.6 364L898.1 361.4L899.6 358.8L901.1 356.2L902.5 353.6L903.9 350.9L905.3 348.2L906.6 345.6L907.9 342.9L909.2 340.2L910.5 337.4L911.7 334.7L913 332L914.2 329.2L915.4 326.5L916.6 323.7L917.8 321L919 318.2L920.2 315.5L921.4 312.7L922.6 310L923.8 307.2L925 304.5L926.3 301.8L927.5 299L928.8 296.3L930 293.6L931.4 290.9L932.7 288.2L934 285.5L935.4 282.9L936.8 280.2L938.2 277.6L939.6 274.9L941.1 272.3L942.5 269.7L944 267.1L945.5 264.5L947.1 261.9L948.6 259.3L950.2 256.8L951.8 254.2L953.4 251.7L955 249.2L956.7 246.7L958.4 244.2L960.1 241.7L961.8 239.2L963.5 236.7L965.3 234.3L967.1 231.8L968.9 229.4L970.7 227L972.6 224.6L974.5 222.3L976.4 220L978.4 217.7L980.4 215.5L982.5 213.3L984.6 211.3L986.8 209.2L989.1 207.3L991.4 205.5L993.8 203.7L996.3 202.1L998.8 200.6L1001.4 199.1L1004.1 197.8L1006.9 196.5L1009.7 195.3L1012.6 194.2L1015.5 193.2L1018.5 192.3L1021.5 191.5L1024.5 191L1027.4 190.6L1030.4 190.6L1033.3 190.7L1036.2 191.2L1039 192L1041.8 193.1L1044.6 194.3L1047.2 195.8L1049.9 197.2L1052.5 198.8L1055 200.4L1057.5 202.1L1060 203.8L1062.4 205.6L1064.8 207.4L1067.1 209.3L1069.4 211.2L1071.6 213.2L1073.9 215.2L1076 217.2L1078.2 219.3L1080.3 221.5L1082.4 223.6L1084.5 225.8L1086.5 228L1088.5 230.3L1090.5 232.5L1092.4 234.8L1094.4 237.1L1096.3 239.5L1098.2 241.8L1100 244.2L1101.9 246.6L1103.7 248.9L1105.5 251.3L1107.3 253.8L1109.1 256.2L1110.9 258.6L1112.6 261L1114.4 263.5L1116.1 266L1117.8 268.4L1119.5 270.9L1121.1 273.4L1122.8 275.9L1124.4 278.4L1126 281L1127.6 283.5L1129.2 286L1130.8 288.6L1132.3 291.1L1133.9 293.7L1135.4 296.3L1136.9 298.9L1138.4 301.5L1139.9 304.1L1141.4 306.7L1142.8 309.3L1144.3 311.9L1145.7 314.6L1147.1 317.2L1148.5 319.9L1149.9 322.5L1151.3 325.2L1152.7 327.8L1154 330.5L1155.4 333.2L1156.7 335.9L1158.1 338.6L1159.4 341.3L1160.7 344L1162 346.7L1163.3 349.4L1164.5 352.1L1165.8 354.8L1167.1 357.6L1168.3 360.3L1169.5 363.1L1170.8 365.8L1172 368.5L1173.2 371.3L1174.4 374L1175.6 376.8L1176.8 379.6L1178 382.3L1179.1 385.1L1180.3 387.9L1181.5 390.6L1182.6 393.4L1183.8 396.2L1184.9 399L1186 401.8L1187.2 404.5L1188.3 407.3L1189.4 410.1L1190.5 412.9L1191.6 415.7L1192.7 418.5L1193.8 421.3L1194.9 424.1L1196 426.9L1197 429.7L1198.1 432.5L1199.2 435.3L1200.2 438.1L1201.2 440.9L1202.3 443.7L1203.3 446.5L1204.3 449.4L1205.3 452.2L1206.3 455L1207.3 457.8L1208.2 460.7L1209.2 463.5L1210.1 466.4L1211.1 469.2L1212 472.1L1212.9 474.9L1213.8 477.8L1214.7 480.7L1215.5 483.5L1216.4 486.4L1217.2 489.3L1218 492.2L1218.8 495.1L1219.6 498L1220.4 500.9L1221.2 503.8L1221.9 506.7L1222.7 509.6L1223.4 512.5L1224.1 515.5L1224.9 518.4L1225.6 521.3L1226.3 524.2L1227.1 527.1L1227.8 530.1L1228.6 533L1229.3 535.9L1230.1 538.8L1230.9 541.7L1231.7 544.6L1232.5 547.5L1233.4 550.3L1234.2 553.2L1235.1 556.1L1235.9 558.9L1236.8 561.8L1237.7 564.7L1238.6 567.5L1239.4 570.4L1240.3 573.2L1241.2 576.1L1242.1 579L1242.9 581.8L1243.8 584.7L1244.7 587.5L1245.5 590.4L1246.4 593.3L1247.2 596.2L1248 599L1248.8 601.9L1249.6 604.8L1250.3 607.7L1251.1 610.6L1251.8 613.5L1252.5 616.5L1253.1 619.4L1253.8 622.3L1254.4 625.3L1255 628.3L1255.5 631.2L1256 634.2L1256.5 637.2L1257 640.2L1257.4 643.2L1257.9 646.3L1258.3 649.3L1258.7 652.3L1259.1 655.3L1259.4 658.3L1259.8 661.4L1260.2 664.4L1260.6 667.4L1261 670.4L1261.4 673.4L1261.9 676.3L1262.3 679.3L1262.8 682.2L1263.3 685.2L1263.8 688.1L1264.3 691L1264.8 693.9L1265.4 696.8L1266 699.7L1266.6 702.6L1267.3 705.5L1267.9 708.3L1268.6 711.2L1269.4 714L1270.1 716.9L1270.9 719.7L1271.7 722.6L1272.6 725.4L1273.5 728.3L1274.4 731.1L1275.3 733.9L1276.3 736.8L1277.4 739.6L1278.4 742.4L1279.5 745.3L1280.7 748.1L1281.9 750.9L1283.1 753.8L1284.4 756.6L1285.7 759.5L1287.1 762.3L1288.5 765.1L1289.9 768L1291.4 770.8L1293 773.6L1294.7 776.3L1296.4 778.8L1298.3 781.1L1300.2 783.2L1302.3 785L1304.5 786.5L1306.9 787.7L1309.4 788.5L1312.1 788.8L1314.9 788.7L1317.7 788.1L1320.3 786.8L1322.5 785.1L1324.6 782.8L1326.4 780.3L1328.1 777.5L1329.8 774.6L1331.3 771.7L1333 768.9L1334.6 766.2L1336.2 763.6L1337.8 761L1339.4 758.5L1340.9 756L1342.4 753.5L1343.8 750.9L1345.2 748.4L1346.5 745.8L1347.8 743.1L1348.9 740.5L1350 737.7L1351.1 735L1352 732.2L1353 729.3L1353.9 726.5L1354.8 723.6L1355.6 720.7L1356.4 717.7L1357.2 714.8L1358 711.9L1358.8 708.9L1359.6 706L1360.4 703L1361.2 700.1L1362 697.2L1362.8 694.2L1363.6 691.3L1364.4 688.4L1365.3 685.5L1366.1 682.6L1367 679.7L1367.8 676.8L1368.7 673.9L1369.6 671L1370.5 668.1L1371.5 665.3L1372.4 662.4L1373.3 659.6L1374.3 656.7L1375.3 653.9L1376.3 651.1L1377.3 648.3L1378.4 645.5L1379.4 642.7L1380.5 639.9L1381.6 637.2L1382.7 634.4L1383.9 631.7L1385 628.9L1386.2 626.2L1387.5 623.5L1388.7 620.9L1389.9 618.2L1391.2 615.5L1392.6 612.9L1393.9 610.2L1395.3 607.6L1396.7 604.9L1398.1 602.3L1399.6 599.6L1401.1 597L1402.7 594.3L1404.3 591.6L1406 588.9L1407.7 586.2L1409.6 583.6L1411.5 581.2L1413.6 579.1L1415.8 577.2L1418.2 575.6L1420.7 574.5L1423.5 573.7L1426.3 573.5L1429.2 573.9L1432 574.7L1434.7 576L1437.3 577.6L1439.8 579.5L1442.2 581.6L1444.3 583.9L1446.3 586.2L1448.1 588.7L1449.8 591.1L1451.5 593.6L1453.1 596.1L1454.7 598.6L1456.3 601.2L1457.9 603.7L1459.5 606.2L1461.1 608.8L1462.6 611.3L1464.2 613.9L1465.7 616.5L1467.2 619L1468.7 621.6L1470.3 624.2L1471.7 626.8L1473.2 629.4L1474.7 632L1476.2 634.7L1477.6 637.3L1479.1 639.9L1480.5 642.6L1481.9 645.2L1483.3 647.9L1484.7 650.5L1486.1 653.2L1487.5 655.9L1488.8 658.6L1490.2 661.3L1491.5 663.9L1492.8 666.6L1494.2 669.4L1495.5 672.1L1496.8 674.8L1498.1 677.5L1499.3 680.2L1500.6 682.9L1501.9 685.7L1503.1 688.4L1504.3 691.2L1505.6 693.9L1506.8 696.6L1508.1 699.4L1509.3 702.1L1510.5 704.8L1511.8 707.6L1513.1 710.3L1514.3 713L1515.6 715.7L1516.9 718.4L1518.2 721.1L1519.6 723.8L1520.9 726.5L1522.3 729.2L1523.7 731.8L1525.1 734.5L1526.6 737.1L1528 739.7L1529.6 742.3L1531.1 744.9L1532.7 747.4L1534.3 749.9L1536 752.5L1537.7 755L1539.4 757.4L1541.2 759.9L1543.1 762.3L1545 764.7L1546.9 767L1548.9 769.3L1551 771.6L1553.1 773.7L1555.3 775.7L1557.6 777.7L1559.9 779.5L1562.3 781.1L1564.8 782.7L1567.3 784.1L1569.9 785.4L1572.5 786.6L1575.2 787.7L1578 788.7L1580.8 789.6L1583.6 790.4L1586.5 791.2L1589.4 791.8L1592.4 792.4L1595.3 792.9L1598.4 793.3L1601.4 793.7L1604.4 794L1607.5 794.2L1610.6 794.4L1613.7 794.6L1616.8 794.7L1619.9 794.8L1622.9 794.8L1626 794.9L1629.1 794.9L1632.2 794.9L1635.3 794.9L1638.3 794.8L1641.4 794.8L1644.4 794.8L1647.4 794.8L1650.5 794.9L1653.4 794.9L1656.4 795L1659.4 795.1L1662.4 795.3L1665.3 795.5L1668.2 795.8L1671.1 796.2L1674 796.6L1676.9 797.1L1679.7 797.6L1682.5 798.3L1685.4 799L1688.1 799.9L1690.9 800.8L1693.6 801.9L1696.4 803L1699.1 804.3L1701.7 805.6L1704.4 807L1707 808.6L1709.5 810.2L1712.1 811.8L1714.6 813.6L1717.1 815.4L1719.5 817.3L1721.9 819.2L1724.3 821.2L1726.6 823.3L1728.8 825.4L1731.1 827.5L1733.3 829.7L1735.4 831.9L1737.5 834.1L1739.5 836.4L1741.5 838.7L1743.4 841L1745.3 843.3L1747.1 845.6L1748.9 848L1750.6 850.3L1752.3 852.6L1753.8 854.9"/>
<path stroke="#00B0F0" stroke-dasharray="94.6 53.54 0 53.53 93.65 53.5 0 53.49 93.59 53.47 0 53.46 93.55 53.45 0 53.45 93.53 53.45 0 53.45 93.54 53.45 0 53.46 93.56 53.47 0 53.48 93.61 53.5 0 53.51 93.67 53.54 0 53.56 93.76 53.6 0 53.61 93.87 53.66 0 53.68 94 53.74 0 53.76 94.15 53.83 0 400" d="M244.1 911.1L247.1 911.3L250.1 911.5L253.1 911.8L256.1 912L259.1 912.2L262.1 912.5L265.1 912.7L268.1 912.9L271 913.1L274 913.3L277 913.5L280 913.7L283 913.9L286 914L289 914.2L292 914.4L295 914.6L298 914.7L301 914.9L304 915L307 915.2L310 915.3L313 915.5L316 915.6L319 915.7L322 915.8L325 916L328 916.1L331 916.2L334 916.3L337 916.4L340 916.5L343 916.6L346 916.7L349 916.8L352 916.9L355 917L358 917L361 917.1L364 917.2L367 917.3L370 917.3L373 917.4L376 917.5L379 917.5L382 917.6L385 917.6L388 917.7L391 917.7L394 917.8L397 917.8L400 917.8L403 917.9L406 917.9L409 917.9L412 918L415 918L418 918L421 918L424 918.1L427 918.1L430 918.1L433 918.1L436 918.1L439 918.1L442 918.2L445 918.2L448 918.2L451 918.2L454 918.2L457 918.2L460 918.2L463 918.2L466 918.2L469 918.2L472 918.2L475 918.2L478 918.2L481 918.2L484 918.1L487 918.1L490 918.1L493 918.1L496 918.1L499 918.1L502 918.1L505 918.1L508 918.1L511 918.1L514 918L517 918L520 918L523 918L526 918L529 918L532 918L535 918L538 918L541 917.9L544 917.9L547 917.9L550 917.9L553 917.9L556 917.9L559 917.9L562 917.9L565 917.9L568 917.9L571 917.9L574 917.9L577 917.9L580 917.9L583.1 917.9L586.1 917.8L589.1 917.8L592.1 917.8L595.1 917.8L598.1 917.8L601.1 917.8L604.1 917.8L607.1 917.8L610.1 917.8L613.1 917.8L616.1 917.8L619.1 917.8L622.1 917.8L625.1 917.8L628.1 917.8L631.1 917.8L634.1 917.8L637.1 917.7L640.1 917.7L643.1 917.7L646.1 917.7L649.1 917.7L652.1 917.7L655.1 917.7L658.1 917.7L661.1 917.7L664.1 917.6L667.1 917.6L670.1 917.6L673.1 917.6L676.1 917.6L679.1 917.5L682.1 917.5L685.1 917.5L688.1 917.5L691.1 917.5L694.1 917.4L697.1 917.4L700.1 917.4L703.1 917.3L706.1 917.3L709.1 917.3L712.1 917.3L715.1 917.2L718.1 917.2L721.1 917.2L724.1 917.1L727.1 917.1L730.1 917.1L733.1 917.1L736.1 917L739.1 917L742.1 917L745.1 917L748.1 917L751.1 917L754.1 917L757.1 916.9L760.1 916.9L763.1 916.8L766.1 916.7L769.1 916.6L772.1 916.4L775.2 916.1L778.2 915.8L781.2 915.4L784.2 914.9L787.1 914.3L790.1 913.6L792.9 912.7L795.6 911.6L798.3 910.4L800.9 909L803.3 907.4L805.6 905.6L807.7 903.5L809.7 901.3L811.6 898.9L813.4 896.4L815.1 893.8L816.7 891.2L818.3 888.6L819.7 885.9L821.1 883.2L822.4 880.5L823.7 877.8L824.9 875L826 872.2L827.1 869.4L828.1 866.6L829.1 863.8L830.1 860.9L831 858.1L831.8 855.2L832.7 852.3L833.5 849.4L834.3 846.5L835.1 843.6L835.8 840.7L836.5 837.8L837.3 834.9L838 831.9L838.7 829L839.4 826.1L840.1 823.2L840.8 820.3L841.5 817.3L842.2 814.4L842.9 811.5L843.5 808.6L844.2 805.6L844.8 802.7L845.5 799.8L846.1 796.9L846.8 793.9L847.4 791L848 788.1L848.7 785.1L849.3 782.2L849.9 779.3L850.5 776.3L851.1 773.4L851.7 770.5L852.3 767.5L852.9 764.6L853.5 761.6L854.1 758.7L854.6 755.8L855.2 752.8L855.8 749.9L856.4 746.9L856.9 744L857.5 741.1L858 738.1L858.6 735.2L859.1 732.2L859.7 729.3L860.2 726.3L860.8 723.4L861.3 720.4L861.9 717.5L862.4 714.6L863 711.6L863.5 708.7L864 705.7L864.6 702.8L865.1 699.8L865.6 696.9L866.1 693.9L866.7 691L867.2 688L867.7 685.1L868.3 682.1L868.8 679.2L869.3 676.2L869.8 673.3L870.4 670.3L870.9 667.4L871.4 664.4L871.9 661.5L872.5 658.5L873 655.6L873.5 652.6L874 649.7L874.6 646.7L875.1 643.8L875.6 640.8L876.2 637.9L876.7 634.9L877.3 632L877.8 629L878.3 626.1L878.9 623.1L879.4 620.1L880 617.2L880.5 614.2L881.1 611.3L881.6 608.3L882.2 605.4L882.8 602.4L883.3 599.5L883.9 596.5L884.5 593.6L885.1 590.6L885.6 587.7L886.2 584.8L886.8 581.8L887.4 578.9L888 575.9L888.6 573L889.2 570L889.8 567.1L890.4 564.1L891.1 561.2L891.7 558.2L892.3 555.3L892.9 552.4L893.6 549.4L894.2 546.5L894.9 543.5L895.6 540.6L896.2 537.7L896.9 534.7L897.6 531.8L898.2 528.9L898.9 525.9L899.6 523L900.3 520.1L901 517.2L901.8 514.2L902.5 511.3L903.2 508.4L903.9 505.5L904.7 502.6L905.4 499.6L906.2 496.7L907 493.8L907.7 490.9L908.5 488L909.3 485.1L910.1 482.2L910.9 479.3L911.7 476.4L912.6 473.5L913.4 470.7L914.2 467.8L915.1 464.9L915.9 462L916.8 459.1L917.7 456.3L918.6 453.4L919.5 450.5L920.4 447.7L921.3 444.8L922.2 442L923.1 439.1L924.1 436.3L925 433.4L926 430.6L927 427.8L927.9 424.9L928.9 422.1L929.9 419.3L931 416.5L932 413.7L933 410.9L934.1 408L935.1 405.2L936.2 402.5L937.3 399.7L938.4 396.9L939.5 394.1L940.6 391.3L941.7 388.6L942.9 385.8L944 383L945.2 380.3L946.4 377.5L947.6 374.8L948.8 372.1L950 369.3L951.3 366.6L952.6 363.9L953.9 361.2L955.2 358.6L956.6 355.9L957.9 353.3L959.3 350.6L960.8 348L962.3 345.4L963.8 342.8L965.3 340.3L966.9 337.7L968.5 335.2L970.1 332.7L971.8 330.2L973.5 327.7L975.3 325.3L977.1 322.8L978.9 320.4L980.8 318.1L982.7 315.7L984.7 313.4L986.7 311.1L988.8 308.9L990.9 306.7L993.1 304.5L995.3 302.5L997.6 300.4L999.9 298.5L1002.2 296.5L1004.6 294.7L1007.1 292.9L1009.6 291.3L1012.1 289.7L1014.7 288.1L1017.3 286.7L1020 285.4L1022.7 284.1L1025.5 283L1028.3 282L1031.2 281.2L1034 280.6L1037 280.3L1039.9 280.4L1042.9 280.8L1045.8 281.5L1048.7 282.4L1051.6 283.4L1054.5 284.5L1057.3 285.7L1060.1 287L1062.8 288.3L1065.5 289.6L1068.1 291.1L1070.7 292.5L1073.3 294.1L1075.8 295.6L1078.3 297.3L1080.7 299L1083.1 300.7L1085.5 302.5L1087.9 304.3L1090.2 306.2L1092.4 308.1L1094.7 310.1L1096.9 312.1L1099.1 314.1L1101.2 316.2L1103.3 318.3L1105.4 320.4L1107.5 322.6L1109.5 324.8L1111.5 327L1113.5 329.2L1115.5 331.5L1117.4 333.8L1119.3 336.2L1121.2 338.5L1123.1 340.9L1125 343.3L1126.8 345.7L1128.6 348.1L1130.4 350.5L1132.2 352.9L1134 355.4L1135.7 357.8L1137.5 360.3L1139.2 362.8L1140.9 365.3L1142.6 367.8L1144.3 370.3L1145.9 372.8L1147.6 375.3L1149.2 377.8L1150.8 380.4L1152.4 382.9L1154 385.5L1155.6 388.1L1157.2 390.6L1158.7 393.2L1160.2 395.8L1161.8 398.4L1163.3 401L1164.8 403.6L1166.2 406.2L1167.7 408.9L1169.1 411.5L1170.6 414.1L1172 416.8L1173.4 419.4L1174.8 422.1L1176.2 424.8L1177.5 427.4L1178.9 430.1L1180.2 432.8L1181.5 435.5L1182.8 438.2L1184.1 440.9L1185.4 443.6L1186.7 446.4L1187.9 449.1L1189.2 451.8L1190.4 454.5L1191.6 457.3L1192.8 460L1194 462.8L1195.2 465.5L1196.3 468.3L1197.5 471.1L1198.6 473.9L1199.7 476.6L1200.9 479.4L1202 482.2L1203 485L1204.1 487.8L1205.2 490.6L1206.2 493.4L1207.3 496.2L1208.3 499L1209.3 501.8L1210.3 504.7L1211.3 507.5L1212.3 510.3L1213.2 513.2L1214.2 516L1215.1 518.8L1216 521.7L1217 524.5L1217.9 527.4L1218.8 530.2L1219.6 533.1L1220.5 535.9L1221.4 538.8L1222.2 541.7L1223.1 544.5L1223.9 547.4L1224.8 550.3L1225.6 553.1L1226.4 556L1227.2 558.9L1228 561.8L1228.8 564.7L1229.6 567.6L1230.4 570.5L1231.1 573.3L1231.9 576.2L1232.7 579.1L1233.4 582L1234.2 584.9L1234.9 587.8L1235.6 590.7L1236.4 593.6L1237.1 596.6L1237.8 599.5L1238.5 602.4L1239.2 605.3L1240 608.2L1240.7 611.1L1241.4 614L1242.1 616.9L1242.8 619.9L1243.5 622.8L1244.2 625.7L1244.8 628.6L1245.5 631.6L1246.2 634.5L1246.9 637.4L1247.6 640.3L1248.3 643.3L1249 646.2L1249.7 649.1L1250.4 652L1251 655L1251.7 657.9L1252.4 660.8L1253.1 663.8L1253.8 666.7L1254.5 669.6L1255.2 672.5L1255.9 675.5L1256.6 678.4L1257.3 681.3L1258 684.3L1258.7 687.2L1259.4 690.1L1260.2 693.1L1260.9 696L1261.6 698.9L1262.3 701.8L1263.1 704.8L1263.8 707.7L1264.6 710.6L1265.3 713.5L1266.1 716.5L1266.8 719.4L1267.6 722.3L1268.4 725.2L1269.2 728.1L1270 731.1L1270.8 734L1271.6 736.9L1272.4 739.8L1273.3 742.7L1274.1 745.6L1275 748.5L1276 751.3L1276.9 754.2L1277.9 757L1279 759.8L1280.1 762.5L1281.3 765.3L1282.5 768L1283.8 770.7L1285.2 773.3L1286.6 775.9L1288.1 778.4L1289.7 781L1291.4 783.4L1293.2 785.9L1295 788.2L1297 790.5L1299.1 792.8L1301.3 795L1303.5 797L1305.9 798.8L1308.4 800.1L1311 800.9L1313.6 801L1316.3 800.4L1319 799.3L1321.6 797.9L1324 796.1L1326.4 794.2L1328.5 792.1L1330.5 789.8L1332.4 787.4L1334.2 784.9L1335.8 782.3L1337.4 779.6L1338.8 776.9L1340.2 774.1L1341.5 771.2L1342.7 768.3L1343.9 765.4L1345 762.4L1346.1 759.5L1347.2 756.6L1348.3 753.8L1349.3 751L1350.4 748.2L1351.4 745.4L1352.5 742.6L1353.5 739.9L1354.5 737.2L1355.6 734.4L1356.6 731.7L1357.6 729L1358.7 726.2L1359.7 723.5L1360.8 720.7L1361.8 717.9L1362.9 715.1L1364 712.4L1365 709.6L1366.1 706.8L1367.2 703.9L1368.2 701.1L1369.3 698.3L1370.4 695.5L1371.4 692.7L1372.5 689.8L1373.6 687L1374.6 684.2L1375.7 681.3L1376.7 678.5L1377.8 675.7L1378.9 672.8L1379.9 670L1381 667.2L1382 664.3L1383 661.5L1384.1 658.7L1385.1 655.8L1386.1 653L1387.2 650.2L1388.2 647.4L1389.3 644.6L1390.4 641.9L1391.5 639.1L1392.7 636.4L1393.9 633.6L1395.2 631L1396.5 628.3L1398 625.7L1399.4 623.1L1401 620.5L1402.7 618L1404.4 615.5L1406.3 613.1L1408.2 610.7L1410.3 608.3L1412.5 606L1414.8 603.8L1417.3 601.7L1419.8 600L1422.5 598.6L1425.2 597.7L1427.9 597.3L1430.6 597.5L1433.2 598.2L1435.7 599.3L1438.2 600.8L1440.5 602.5L1442.8 604.3L1445 606.2L1447 608.2L1449 610.4L1450.9 612.6L1452.8 614.9L1454.6 617.4L1456.3 619.9L1458 622.4L1459.6 625L1461.1 627.7L1462.7 630.4L1464.2 633.1L1465.7 635.9L1467.1 638.7L1468.5 641.4L1470 644.2L1471.4 646.9L1472.8 649.7L1474.2 652.4L1475.6 655.1L1477 657.7L1478.4 660.4L1479.9 663L1481.3 665.6L1482.7 668.2L1484.1 670.8L1485.5 673.4L1486.9 676L1488.3 678.5L1489.7 681.1L1491.1 683.6L1492.6 686.2L1494 688.8L1495.4 691.3L1496.8 693.9L1498.2 696.5L1499.6 699L1501 701.6L1502.4 704.2L1503.8 706.8L1505.2 709.4L1506.6 712.1L1508 714.7L1509.4 717.4L1510.8 720.1L1512.2 722.8L1513.6 725.5L1515 728.3L1516.5 731L1517.9 733.7L1519.3 736.5L1520.8 739.2L1522.2 741.9L1523.7 744.7L1525.3 747.4L1526.8 750L1528.4 752.7L1529.9 755.3L1531.6 757.9L1533.2 760.4L1534.9 762.9L1536.7 765.4L1538.4 767.8L1540.3 770.2L1542.1 772.5L1544 774.7L1546 776.9L1548 779L1550.1 781L1552.2 783L1554.4 784.9L1556.7 786.6L1559 788.3L1561.4 790L1563.8 791.5L1566.4 792.9L1569 794.2L1571.6 795.4L1574.4 796.5L1577.2 797.5L1580.1 798.4L1583 799.2L1586 799.9L1589 800.5L1592.1 801.1L1595.2 801.5L1598.3 801.9L1601.4 802.2L1604.5 802.5L1607.7 802.7L1610.8 802.8L1613.9 802.8L1617.1 802.9L1620.2 802.8L1623.3 802.7L1626.3 802.6L1629.3 802.4L1632.3 802.3L1635.3 802.1L1638.3 801.9L1641.2 801.7L1644.1 801.6L1647 801.5L1649.9 801.5L1652.8 801.5L1655.6 801.6L1658.5 801.8L1661.4 802.1L1664.2 802.5L1667.1 803L1669.9 803.6L1672.8 804.5L1675.7 805.4L1678.5 806.5L1681.4 807.7L1684.2 809L1687.1 810.3L1689.9 811.7L1692.6 813.2L1695.4 814.6L1698.1 816.1L1700.7 817.5L1703.3 819L1705.9 820.4L1708.5 821.9L1711 823.5L1713.5 825L1715.9 826.6L1718.4 828.3L1720.8 830L1723.2 831.8L1725.5 833.6L1727.9 835.5L1730.2 837.4L1732.5 839.4L1734.8 841.4L1737 843.4L1739.3 845.5L1741.5 847.6L1743.6 849.7L1745.8 851.8L1747.9 853.9L1750.1 856L1752.1 858.1L1754.2 860.1"/>
</g>
<g class="tick" text-anchor="end">
<text transform="translate(185.3 946.3) scale(0.95 1)">0</text>
<text transform="translate(185.3 656.3) scale(0.95 1)">1</text>
<text transform="translate(185.3 366.1) scale(0.95 1)">2</text>
<text transform="translate(185.3 72.2) scale(0.95 1)">3</text>
</g>
<g class="tick" text-anchor="middle">
<text transform="translate(244.8 1028.3) scale(0.95 1)">450</text>
<text transform="translate(622.3 1028.3) scale(0.95 1)">550</text>
<text transform="translate(999.9 1028.3) scale(0.95 1)">650</text>
<text transform="translate(1377.4 1028.3) scale(0.95 1)">750</text>
<text transform="translate(1754.9 1028.3) scale(0.95 1)">850</text>
</g>
<text class="title" text-anchor="middle" transform="translate(999.9 1144) scale(0.929 1)">Wavelength (nm)</text>
<text class="title" text-anchor="middle" transform="translate(76.9 506) rotate(-90) scale(0.8905 1)">Relative intensity (a.u.)</text>
<g class="series">
<path stroke="#3D65AC" d="M1321 101.9H1533.5"/>
<path stroke="#FF0000" stroke-dasharray="26.8 26.8" d="M1321 192H1533.5"/>
<path stroke="#64993E" stroke-dasharray="40.2 53.6" d="M1321 281.9H1533.5"/>
<path stroke="#00B0F0" stroke-dasharray="93.8 53.6 0 53.6" d="M1321 369.7H1533.5"/>
</g>
<g class="tick">
<text transform="translate(0 128.8) scale(0.95 1)"><tspan x="1638.95">0</tspan><tspan x="1681.47" letter-spacing="0"> h</tspan></text>
<text transform="translate(0 216.8) scale(0.95 1)"><tspan x="1638.32">1</tspan><tspan x="1681.47" letter-spacing="0"> h</tspan></text>
<text transform="translate(0 306.3) scale(0.95 1)"><tspan x="1637.89">4</tspan><tspan x="1681.47" letter-spacing="0"> h</tspan></text>
<text transform="translate(0 396) scale(0.95 1)"><tspan x="1638.32" letter-spacing="-2.8">12</tspan><tspan x="1723.79" letter-spacing="0"> h</tspan></text>
</g>
</svg>
</body>
</html>
